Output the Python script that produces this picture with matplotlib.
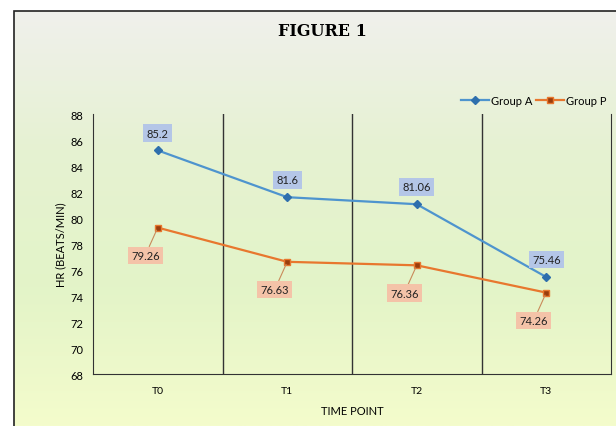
import numpy as np
import matplotlib.pyplot as plt
from matplotlib.colors import LinearSegmentedColormap
from matplotlib.patches import Rectangle

categories = ["T0", "T1", "T2", "T3"]
group_a = [85.2, 81.6, 81.06, 75.46]
group_p = [79.26, 76.63, 76.36, 74.26]
yticks = [68, 70, 72, 74, 76, 78, 80, 82, 84, 86, 88]

blue = "#4e94ce"
orange = "#e8772e"

plt.rcParams["font.family"] = ["Lato", "DejaVu Sans"]

fig = plt.figure(figsize=(6.16, 4.27), dpi=100)

# background gradient inside the frame
bg = fig.add_axes([14/616, 0, 1 - 14/616, 1 - 12/427], zorder=0)
grad = LinearSegmentedColormap.from_list("bg", ["#f0f0ec", "#e6f2d2", "#e3f4c8", "#f4fccc"])
bg.imshow(np.linspace(0, 1, 256).reshape(-1, 1), aspect="auto", cmap=grad,
          extent=[0, 1, 0, 1])
bg.set_xlim(0, 1)
bg.set_ylim(0, 1)
bg.axis("off")
fig.patches.append(Rectangle((14/616, -0.05), 1.1, 1.05 - 12/427, transform=fig.transFigure,
                             fill=False, edgecolor="#222222", lw=1.2))

ax = fig.add_axes([93/616, 52/427, 518/616, 260/427], zorder=1)
ax.patch.set_alpha(0)
x = np.arange(len(categories))

ax.plot(x, group_a, color=blue, lw=1.6, marker="D", ms=4.5, mfc="#2e6fad", mec="#2e6fad",
        label="Group A", zorder=3)
ax.plot(x, group_p, color=orange, lw=1.6, marker="s", ms=5, mfc="#9a3d0c", mec=orange,
        label="Group P", zorder=3)

for xi, v in zip(x, group_a):
    ax.annotate(f"{v:g}", (xi, v), xytext=(0, 12.5), textcoords="offset points", ha="center",
                va="center", fontsize=8, color="#222222",
                bbox=dict(boxstyle="square,pad=0.3", fc="#b4c6e7", ec="none"))

for xi, v in zip(x, group_p):
    ax.annotate(f"{v:g}", (xi, v), xytext=(-9, -20), textcoords="offset points", ha="center",
                va="center", fontsize=8, color="#222222",
                bbox=dict(boxstyle="square,pad=0.3", fc="#f4c3a8", ec="none"),
                arrowprops=dict(arrowstyle="-", color="#c98a5a", lw=0.8, shrinkA=0, shrinkB=2))

for b in [0.5, 1.5, 2.5]:
    ax.axvline(b, color="#333333", lw=1.0, zorder=1)

ax.set_xlim(-0.5, 3.5)
ax.set_ylim(68, 88)
ax.set_yticks(yticks)
ax.set_xticks(x)
ax.set_xticklabels(categories, fontsize=7.5)
ax.tick_params(axis="y", labelsize=8, length=0, pad=7)
ax.tick_params(axis="x", length=0, pad=9)
ax.spines["top"].set_visible(False)
for s in ["left", "bottom", "right"]:
    ax.spines[s].set_color("#333333")
ax.set_ylabel("HR (BEATS/MIN)", fontsize=8, labelpad=3)
ax.set_xlabel("TIME POINT", fontsize=8, labelpad=7)

ax.legend(loc="lower right", bbox_to_anchor=(1.0, 1.015), ncol=2, frameon=False, fontsize=8,
          handlelength=2.5, columnspacing=0.3, handletextpad=0.2, borderaxespad=0,
          markerscale=0.8)

fig.text(322/616, 1 - 31/427, "FIGURE 1", ha="center", va="center", fontsize=11.5,
         fontweight="bold", family="DejaVu Serif")

fig.savefig("out.png", dpi=100)
